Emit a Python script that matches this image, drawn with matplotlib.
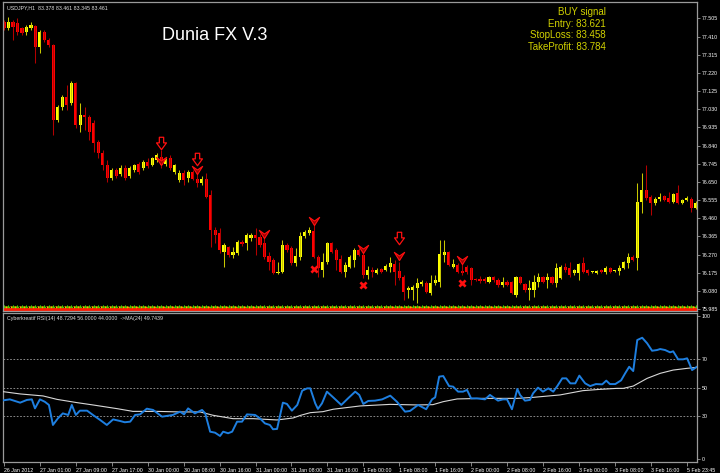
import matplotlib
matplotlib.use('Agg')
import matplotlib.pyplot as plt
import numpy as np
from matplotlib.path import Path

# ---------------- data ----------------
opens = [77.486, 77.455, 77.486, 77.481, 77.455, 77.434, 77.455, 77.465, 77.355, 77.434,
         77.392, 77.366, 76.973, 77.041, 77.094, 77.062, 77.167, 76.947, 76.999, 76.989,
         76.958, 76.858, 76.801, 76.738, 76.670, 76.712, 76.691, 76.722, 76.681, 76.712,
         76.743, 76.722, 76.754, 76.738, 76.764, 76.780, 76.743, 76.775, 76.701, 76.660,
         76.696, 76.670, 76.701, 76.665, 76.644, 76.665, 76.581, 76.398, 76.382, 76.283,
         76.309, 76.267, 76.278, 76.335, 76.330, 76.356, 76.372, 76.362, 76.330, 76.262,
         76.241, 76.173, 76.178, 76.320, 76.304, 76.226, 76.257, 76.367, 76.382, 76.393,
         76.257, 76.189, 76.231, 76.330, 76.294, 76.246, 76.178, 76.205, 76.241, 76.294,
         76.267, 76.163, 76.189, 76.173, 76.194, 76.189, 76.205, 76.220, 76.184, 76.152,
         76.084, 76.084, 76.095, 76.116, 76.121, 76.069, 76.121, 76.126, 76.267, 76.283,
         76.205, 76.215, 76.184, 76.205, 76.199, 76.142, 76.142, 76.142, 76.126, 76.152,
         76.137, 76.111, 76.126, 76.126, 76.058, 76.152, 76.116, 76.084, 76.084, 76.126,
         76.152, 76.137, 76.152, 76.121, 76.147, 76.205, 76.199, 76.173, 76.173, 76.226,
         76.189, 76.178, 76.173, 76.189, 76.178, 76.199, 76.184, 76.184, 76.199, 76.226,
         76.257, 76.252, 76.545, 76.607, 76.571, 76.539, 76.560, 76.576, 76.565, 76.545,
         76.592, 76.539, 76.555, 76.560, 76.513]
highs = [77.496, 77.512, 77.496, 77.507, 77.460, 77.470, 77.486, 77.470, 77.444, 77.444,
         77.402, 77.371, 77.052, 77.104, 77.156, 77.177, 77.172, 77.062, 77.041, 76.999,
         76.973, 76.869, 76.816, 76.764, 76.722, 76.722, 76.738, 76.738, 76.733, 76.743,
         76.754, 76.764, 76.775, 76.780, 76.801, 76.816, 76.775, 76.790, 76.743, 76.712,
         76.712, 76.712, 76.712, 76.701, 76.681, 76.696, 76.607, 76.414, 76.409, 76.330,
         76.314, 76.309, 76.346, 76.346, 76.382, 76.382, 76.409, 76.377, 76.367, 76.283,
         76.252, 76.231, 76.346, 76.330, 76.314, 76.304, 76.388, 76.398, 76.414, 76.424,
         76.267, 76.278, 76.335, 76.335, 76.304, 76.267, 76.231, 76.267, 76.304, 76.304,
         76.278, 76.210, 76.205, 76.199, 76.199, 76.220, 76.257, 76.241, 76.231, 76.163,
         76.105, 76.111, 76.147, 76.137, 76.131, 76.163, 76.163, 76.346, 76.346, 76.288,
         76.246, 76.226, 76.226, 76.215, 76.205, 76.147, 76.158, 76.152, 76.158, 76.158,
         76.147, 76.152, 76.137, 76.131, 76.158, 76.158, 76.121, 76.137, 76.163, 76.173,
         76.158, 76.173, 76.158, 76.226, 76.215, 76.226, 76.231, 76.194, 76.226, 76.257,
         76.194, 76.184, 76.189, 76.194, 76.210, 76.205, 76.189, 76.215, 76.236, 76.278,
         76.267, 76.644, 76.696, 76.738, 76.581, 76.571, 76.592, 76.581, 76.597, 76.592,
         76.633, 76.560, 76.576, 76.571, 76.550]
lows = [77.444, 77.444, 77.392, 77.418, 77.418, 77.418, 77.444, 77.272, 77.324, 77.381,
        77.355, 76.895, 76.963, 77.026, 77.026, 77.052, 76.932, 76.911, 76.921, 76.869,
        76.806, 76.775, 76.712, 76.649, 76.660, 76.670, 76.681, 76.660, 76.670, 76.701,
        76.691, 76.712, 76.722, 76.733, 76.754, 76.722, 76.733, 76.712, 76.691, 76.649,
        76.633, 76.649, 76.660, 76.623, 76.633, 76.565, 76.309, 76.330, 76.278, 76.205,
        76.257, 76.252, 76.267, 76.314, 76.294, 76.341, 76.267, 76.309, 76.246, 76.189,
        76.168, 76.168, 76.173, 76.283, 76.215, 76.210, 76.241, 76.356, 76.372, 76.252,
        76.152, 76.152, 76.220, 76.278, 76.189, 76.173, 76.152, 76.199, 76.205, 76.262,
        76.147, 76.142, 76.152, 76.168, 76.173, 76.184, 76.178, 76.111, 76.137, 76.032,
        76.042, 76.032, 76.016, 76.105, 76.069, 76.058, 76.111, 76.100, 76.231, 76.210,
        76.199, 76.173, 76.163, 76.168, 76.111, 76.131, 76.121, 76.121, 76.121, 76.126,
        76.100, 76.100, 76.105, 76.063, 76.048, 76.116, 76.074, 76.032, 76.048, 76.100,
        76.121, 76.095, 76.116, 76.100, 76.142, 76.178, 76.152, 76.163, 76.137, 76.173,
        76.163, 76.173, 76.168, 76.173, 76.168, 76.173, 76.178, 76.163, 76.194, 76.199,
        76.236, 76.189, 76.487, 76.555, 76.477, 76.529, 76.550, 76.550, 76.539, 76.539,
        76.534, 76.534, 76.550, 76.492, 76.508]
closes = [77.455, 77.486, 77.460, 77.434, 77.428, 77.460, 77.470, 77.355, 77.434, 77.392,
          77.366, 76.973, 77.041, 77.094, 77.052, 77.167, 76.947, 76.999, 76.989, 76.911,
          76.853, 76.801, 76.738, 76.670, 76.712, 76.681, 76.722, 76.670, 76.722, 76.738,
          76.701, 76.754, 76.733, 76.775, 76.790, 76.738, 76.764, 76.722, 76.738, 76.696,
          76.660, 76.701, 76.665, 76.644, 76.665, 76.571, 76.398, 76.372, 76.294, 76.320,
          76.267, 76.283, 76.335, 76.325, 76.372, 76.372, 76.356, 76.320, 76.257, 76.231,
          76.173, 76.178, 76.320, 76.294, 76.226, 76.262, 76.367, 76.388, 76.398, 76.257,
          76.199, 76.231, 76.330, 76.283, 76.241, 76.178, 76.215, 76.257, 76.294, 76.267,
          76.163, 76.189, 76.178, 76.189, 76.178, 76.210, 76.226, 76.178, 76.147, 76.074,
          76.095, 76.100, 76.121, 76.126, 76.074, 76.121, 76.137, 76.273, 76.283, 76.215,
          76.220, 76.178, 76.173, 76.178, 76.137, 76.137, 76.131, 76.131, 76.152, 76.137,
          76.111, 76.126, 76.111, 76.069, 76.152, 76.121, 76.084, 76.095, 76.126, 76.152,
          76.126, 76.152, 76.121, 76.199, 76.205, 76.189, 76.163, 76.189, 76.220, 76.178,
          76.173, 76.184, 76.184, 76.178, 76.199, 76.178, 76.184, 76.199, 76.231, 76.257,
          76.241, 76.545, 76.607, 76.565, 76.539, 76.560, 76.571, 76.555, 76.545, 76.586,
          76.539, 76.555, 76.565, 76.513, 76.539]

# signal markers (bar index, price)
arrow_bars = [35, 43, 88]
arrow_prices = [76.853, 76.769, 76.356]
chevron_bars = [35, 43, 58, 69, 80, 88, 102]
chevron_prices = [76.759, 76.712, 76.377, 76.445, 76.299, 76.262, 76.241]
cross_bars = [69, 80, 102]
cross_prices = [76.194, 76.111, 76.121]

# RSI(14) and its MA(24): (bar position, value)
rsi_bars = [-0.2, 1.3, 3.6, 5.1, 6.2, 6.9, 8.0, 9.1, 10.0, 10.9, 12.0, 13.1, 14.3, 15.1, 16.0,
            16.9, 18.5, 19.8, 21.4, 22.9, 24.3, 25.8, 26.9, 28.1, 29.2, 30.3, 31.8, 33.2, 35.2,
            37.6, 39.2, 40.1, 41.0, 42.5, 44.1, 44.8, 45.9, 47.0, 48.1, 48.8, 49.9, 50.8, 51.9,
            53.0, 54.1, 55.9, 57.0, 58.1, 59.2, 59.9, 60.8, 62.1, 63.0, 64.1, 65.3, 66.4, 67.5,
            68.2, 69.3, 69.9, 70.8, 71.9, 73.3, 75.1, 76.6, 78.2, 79.1, 80.0, 81.1, 82.6, 84.2,
            86.0, 87.5, 89.3, 90.4, 92.2, 94.0, 95.3, 96.0, 96.9, 97.8, 99.1, 100.0, 101.1, 102.2,
            103.1, 104.0, 105.3, 107.1, 108.2, 110.0, 111.1, 112.0, 113.1, 114.3, 114.9, 116.0,
            117.1, 117.8, 118.9, 120.0, 121.2, 122.3, 123.2, 124.3, 125.2, 126.1, 127.2, 128.1,
            129.4, 130.5, 131.8, 133.2, 134.1, 134.9, 136.1, 137.4, 138.3, 139.2, 140.1, 141.0,
            142.1, 143.2, 144.3, 145.4, 146.1, 147.2, 148.3, 149.0, 150.1, 151.2, 152.1, 153.2,
            154.3]
rsi_vals = [41.0, 41.7, 39.4, 41.3, 41.7, 35.4, 41.7, 40.0, 37.8, 23.8, 28.4, 31.9, 30.8, 37.8, 30.8,
            33.8, 33.8, 30.8, 27.3, 23.8, 27.7, 26.6, 25.7, 26.1, 30.8, 31.2, 35.2, 34.3, 29.6,
            30.8, 33.1, 31.2, 35.4, 31.9, 34.3, 31.9, 19.1, 18.4, 16.1, 19.1, 18.0, 19.1, 26.1,
            26.1, 31.2, 30.8, 28.4, 24.9, 23.8, 20.8, 21.0, 39.4, 38.5, 33.8, 37.8, 47.8, 49.4,
            49.4, 38.9, 35.0, 38.9, 47.1, 43.1, 37.8, 42.4, 47.1, 44.8, 38.5, 40.6, 40.8, 41.7,
            44.3, 40.0, 33.1, 33.6, 37.8, 34.8, 41.7, 43.1, 57.6, 58.0, 51.0, 50.6, 47.1, 47.1,
            48.3, 42.4, 42.4, 41.7, 44.8, 40.8, 41.7, 41.7, 34.8, 49.0, 44.8, 40.8,
            41.3, 45.9, 49.9, 47.1, 49.4, 47.1, 51.0, 56.4, 56.4, 52.9, 52.9, 58.3,
            52.9, 51.0, 52.4, 52.2, 54.8, 52.4, 52.4, 55.0, 59.9, 64.5, 61.5, 83.2,
            84.8, 80.9, 75.7, 76.2, 76.9, 76.2, 74.6, 75.3, 69.7, 69.7, 70.4, 62.2,
            64.5]
ma_bars = [-0.2, 3.6, 8.7, 11.8, 16.3, 19.8, 25.2, 28.7, 34.1, 39.2, 43.7, 46.5, 51.0, 55.5,
           60.8, 64.4, 66.0, 68.2, 71.0, 73.3, 79.3, 86.0, 92.0, 95.5, 97.8, 100.9, 106.7,
           114.3, 117.8, 123.8, 128.9, 132.7, 136.5, 137.9, 140.1, 143.2, 146.1, 149.0, 152.1, 154.3]
ma_vals = [47.1, 45.5, 44.1, 41.7, 39.4, 37.8, 35.2, 33.3, 33.3, 32.9, 32.9, 30.6, 28.2, 28.2,
           27.3, 28.7, 30.5, 32.4, 33.1, 34.8, 37.1, 38.2, 37.8, 38.0, 40.1, 42.0, 42.4,
           42.4, 43.1, 44.8, 47.8, 48.7, 49.4, 49.4, 51.0, 56.4, 59.9, 62.2, 63.4, 64.1]

price_ticks = [77.505, 77.410, 77.315, 77.220, 77.125, 77.030, 76.935, 76.840, 76.745,
               76.650, 76.555, 76.460, 76.365, 76.270, 76.175, 76.080, 75.985]
rsi_ticks = [100, 70, 50, 30, 0]
rsi_levels = [70, 50, 30]
time_labels = ['26 Jan 2012', '27 Jan 01:00', '27 Jan 09:00', '27 Jan 17:00', '30 Jan 00:00',
               '30 Jan 08:00', '30 Jan 16:00', '31 Jan 00:00', '31 Jan 08:00', '31 Jan 16:00',
               '1 Feb 00:00', '1 Feb 08:00', '1 Feb 16:00', '2 Feb 00:00', '2 Feb 08:00',
               '2 Feb 16:00', '3 Feb 00:00', '3 Feb 08:00', '3 Feb 16:00', '5 Feb 23:45']
label_step = 8

signal_lines = ['BUY signal', 'Entry: 83.621', 'StopLoss: 83.458', 'TakeProfit: 83.784']
title = 'Dunia FX V.3'
symbol_line = 'USDJPY,H1  83.378 83.461 83.345 83.461'
rsi_line = 'Cyberkreatif RSI(14) 48.7294 56.0000 44.0000  ->MA(24) 49.7439'

# ---------------- style ----------------
SMALL = ['Liberation Sans Narrow', 'Liberation Sans', 'DejaVu Sans']
BULL, BULL_WICK = '#FFFF00', '#C8C800'
BEAR, BEAR_WICK = '#FF0000', '#B40000'
GRID = '#9A9A9A'
FS = 3.8

W, H = 720, 473
fig = plt.figure(figsize=(7.2, 4.73), dpi=100, facecolor='black')

def fx(px):
    return px / W

def fy(py):
    return 1 - py / H

ax1 = fig.add_axes([fx(3), fy(311), fx(697) - fx(3), fy(2) - fy(311)])
ax2 = fig.add_axes([fx(3), fy(462), fx(697) - fx(3), fy(313) - fy(462)])

xmin, xmax = -0.22, 154.3
for ax in (ax1, ax2):
    ax.set_facecolor('black')
    ax.set_xlim(xmin, xmax)
    for s in ax.spines.values():
        s.set_color(GRID)
        s.set_linewidth(0.9)
    ax.yaxis.tick_right()
    ax.tick_params(axis='y', length=2.5, width=0.6, color=GRID, labelcolor='white',
                   labelsize=FS, pad=1)

# candles
o = np.array(opens); h = np.array(highs); l = np.array(lows); c = np.array(closes)
idx = np.arange(len(o))
up = c >= o
dn = ~up
ax1.vlines(idx[up], l[up], h[up], color=BULL_WICK, lw=0.75)
ax1.vlines(idx[dn], l[dn], h[dn], color=BEAR_WICK, lw=0.75)
body_lo = np.minimum(o, c)
body_h = np.maximum(np.abs(c - o), 0.005)
ax1.bar(idx[up], body_h[up], bottom=body_lo[up], width=0.7, color=BULL, linewidth=0)
ax1.bar(idx[dn], body_h[dn], bottom=body_lo[dn], width=0.7, color=BEAR, linewidth=0)

# bottom strip of per-bar markers
ax1.bar(idx, np.full(len(idx), 0.012), bottom=75.977, width=1.0, color='#FF1800', linewidth=0)
ax1.bar(idx, np.full(len(idx), 0.008), bottom=75.989, width=0.75, color='#FF7000', linewidth=0)
ax1.scatter(idx, np.full(len(idx), 76.003), marker='^', s=5.5, color='#40D000', linewidths=0)
ax1.scatter(idx + 0.5, np.full(len(idx), 75.997), marker='v', s=3.0, color='#FFC000', linewidths=0)

# hollow down arrows
arrow_path = Path([(-0.35, 1.0), (0.35, 1.0), (0.35, 0.1), (0.8, 0.1), (0.0, -1.0),
                   (-0.8, 0.1), (-0.35, 0.1), (-0.35, 1.0)], closed=True)
ax1.scatter(arrow_bars, arrow_prices, marker=arrow_path, s=80, facecolors='black',
            edgecolors='#FF1010', linewidths=0.9, zorder=5)
# chevrons
chev_path = Path([(-1.0, 0.8), (0.0, -0.8), (1.0, 0.8), (0.0, 0.1), (-1.0, 0.8)], closed=True)
ax1.scatter(chevron_bars, chevron_prices, marker=chev_path, s=55, facecolors='#A00000',
            edgecolors='#FF1010', linewidths=0.8, zorder=5)
# crosses
ax1.scatter(cross_bars, cross_prices, marker='x', s=20, color='#FF1010', linewidths=1.9, zorder=5)

ax1.set_ylim(75.975, 77.591)
ax1.set_yticks(price_ticks)
ax1.set_yticklabels([f'{v:.3f}' for v in price_ticks])
ax1.set_xticks([])

# texts
ax1.text(4 / 694, 1 - 3.0 / 309, symbol_line, transform=ax1.transAxes,
         color='#E0E0E0', fontsize=FS, family=SMALL, ha='left', va='top')
fig.text(fx(162), fy(35), title, color='white', fontsize=13, family=['Liberation Sans', 'DejaVu Sans'],
         ha='left', va='center')
for k, line in enumerate(signal_lines):
    fig.text(fx(606), fy(12 + 11.7 * k), line, color='#D2D200', fontsize=7,
             family=['Liberation Sans', 'DejaVu Sans'], ha='right', va='center')

# RSI panel
ax2.plot(rsi_bars, rsi_vals, color='#1E7FE0', lw=1.4, solid_joinstyle='round', zorder=4)
ax2.plot(ma_bars, ma_vals, color='#D8D8D8', lw=0.8, zorder=3)
for lv in rsi_levels:
    ax2.axhline(lv, color='#A0A0A0', lw=0.6, ls=(0, (2, 2)), zorder=1)
ax2.set_ylim(-2.1, 102.1)
ax2.set_yticks(rsi_ticks)
ax2.set_yticklabels([str(v) for v in rsi_ticks])
ax2.text(4 / 694, 1 - 3.0 / 149, rsi_line, transform=ax2.transAxes, color='#E0E0E0',
         fontsize=FS, family=SMALL, ha='left', va='top')

pos = [label_step * k for k in range(len(time_labels))]
ax2.set_xticks(pos)
ax2.set_xticklabels(time_labels)
ax2.tick_params(axis='x', length=3, width=0.6, color=GRID, labelcolor='white', labelsize=FS, pad=1)
for t in ax2.get_xticklabels():
    t.set_ha('left')
    t.set_family(SMALL)
for t in ax1.get_yticklabels() + ax2.get_yticklabels():
    t.set_family(SMALL)

fig.savefig('out.png', dpi=100, facecolor='black')
